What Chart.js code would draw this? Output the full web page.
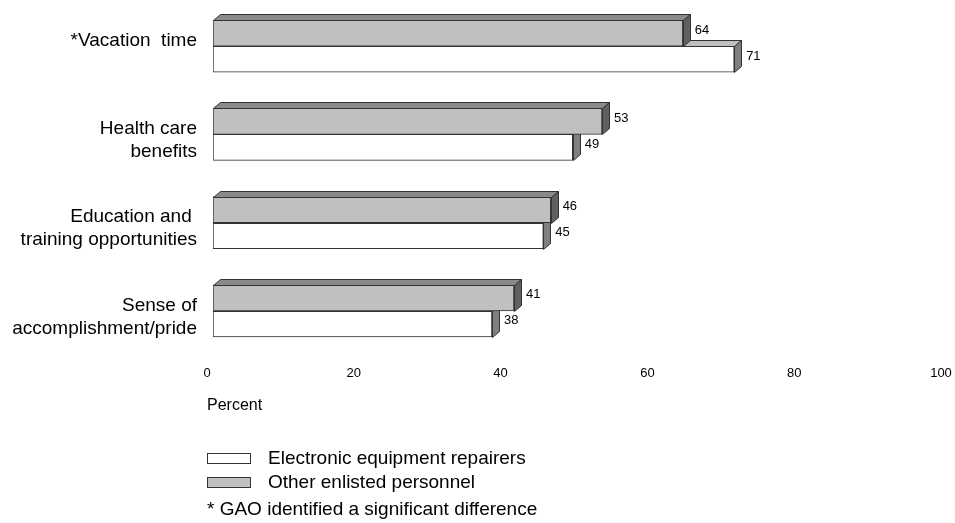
<!DOCTYPE html>
<html>
<head>
<meta charset="utf-8">
<script src="https://cdn.jsdelivr.net/npm/chart.js@4.4.1/dist/chart.umd.min.js"></script>
<style>
  html, body { margin: 0; padding: 0; background: #fff; }
  #wrap { position: relative; width: 955px; height: 523px; font-family: "Liberation Sans", Arial, sans-serif; color: #000; }
  #wrap canvas { position: absolute; left: 0; top: 0; }
  .txt { position: absolute; white-space: nowrap; }
  .key { position: absolute; width: 42px; height: 9px; border: 1px solid #333; }
</style>
</head>
<body>
<div id="wrap">
  <canvas id="chart" width="955" height="523"></canvas>
  <div class="txt" style="left:207px; top:396px; font-size:16px;">Percent</div>
  <div class="key" style="left:207px; top:453px; background:#fff;"></div>
  <div class="txt" style="left:268px; top:447px; font-size:19px;">Electronic equipment repairers</div>
  <div class="key" style="left:207px; top:477px; background:#c0c0c0;"></div>
  <div class="txt" style="left:268px; top:471px; font-size:19px;">Other enlisted personnel</div>
  <div class="txt" style="left:207px; top:498px; font-size:19px;">* GAO identified a significant difference</div>
</div>
<script>
// categories and values (percent)
const categories = [
  ['*Vacation  time', ''],
  ['Health care', 'benefits'],
  ['Education and ', 'training opportunities'],
  ['Sense of', 'accomplishment/pride']
];
const otherEnlisted = [64, 53, 46, 41];
const repairers = [71, 49, 45, 38];
const xTicks = [0, 20, 40, 60, 80, 100];

// 3D depth of the bars
const DX = 7, DY = 6;

const bar3d = {
  id: 'bar3d',
  afterDatasetDraw(chart, args) {
    const ctx = chart.ctx;
    const ds = chart.data.datasets[args.index];
    ctx.save();
    ctx.lineWidth = 1;
    ctx.strokeStyle = '#333';
    args.meta.data.forEach(bar => {
      const top = Math.round(bar.y - bar.height / 2) + 0.5;
      const bottom = Math.round(bar.y + bar.height / 2) + 0.5;
      const left = Math.round(bar.base) + 0.5;
      const right = Math.round(bar.x) + 0.5;
      // top face
      ctx.beginPath();
      ctx.moveTo(left, top);
      ctx.lineTo(left + DX, top - DY);
      ctx.lineTo(right + DX, top - DY);
      ctx.lineTo(right, top);
      ctx.closePath();
      ctx.fillStyle = ds.topColor;
      ctx.fill();
      ctx.stroke();
      // side face
      ctx.beginPath();
      ctx.moveTo(right, top);
      ctx.lineTo(right + DX, top - DY);
      ctx.lineTo(right + DX, bottom - DY);
      ctx.lineTo(right, bottom);
      ctx.closePath();
      ctx.fillStyle = ds.sideColor;
      ctx.fill();
      ctx.stroke();
    });
    // value labels
    ctx.fillStyle = '#000';
    ctx.font = '13px "Liberation Sans", Arial, sans-serif';
    ctx.textBaseline = 'middle';
    ctx.textAlign = 'left';
    args.meta.data.forEach((bar, i) => {
      ctx.fillText(ds.data[i], bar.x + DX + 5, bar.y - DY / 2);
    });
    ctx.restore();
  }
};

new Chart(document.getElementById('chart'), {
  type: 'bar',
  data: {
    labels: categories,
    datasets: [
      {
        label: 'Other enlisted personnel',
        data: otherEnlisted,
        backgroundColor: '#c0c0c0',
        topColor: '#8a8a8a',
        sideColor: '#606060',
        borderColor: '#333',
        borderWidth: 1,
        borderSkipped: false,
        barThickness: 26
      },
      {
        label: 'Electronic equipment repairers',
        data: repairers,
        backgroundColor: '#ffffff',
        topColor: '#c0c0c0',
        sideColor: '#808080',
        borderColor: '#333',
        borderWidth: 1,
        borderSkipped: false,
        barThickness: 26
      }
    ]
  },
  options: {
    indexAxis: 'y',
    responsive: false,
    animation: false,
    layout: { padding: { top: 2, right: 8, left: 0, bottom: 0 } },
    plugins: { legend: { display: false }, tooltip: { enabled: false } },
    scales: {
      x: {
        min: 0,
        max: 100,
        afterBuildTicks: s => { s.ticks = xTicks.map(v => ({ value: v })); },
        afterFit: s => { s.height = 168; s.paddingLeft = 0; s.paddingRight = 0; },
        grid: { display: false, drawTicks: false },
        border: { display: false },
        ticks: {
          color: '#000',
          padding: 11,
          labelOffset: -6,
          maxRotation: 0,
          font: { family: '"Liberation Sans", Arial, sans-serif', size: 13 }
        }
      },
      y: {
        afterFit: s => { s.width = 213; s.paddingTop = 0; s.paddingBottom = 0; },
        grid: { display: false, drawTicks: false },
        border: { display: false },
        ticks: {
          color: '#000',
          padding: 16,
          labelOffset: 6,
          font: { family: '"Liberation Sans", Arial, sans-serif', size: 19, lineHeight: 1.2 }
        }
      }
    }
  },
  plugins: [bar3d]
});
</script>
</body>
</html>
